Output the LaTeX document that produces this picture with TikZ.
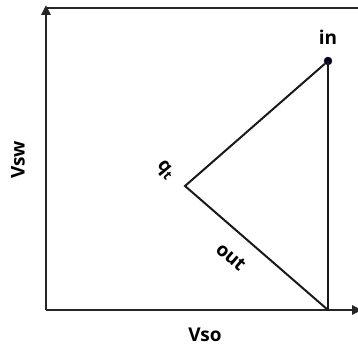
\documentclass[tikz,border=0pt]{standalone}
\usepackage{fontspec}
\setmainfont{Open Sans}
\usepackage{tikz}
\usetikzlibrary{arrows.meta, positioning}

\begin{document}
\begin{tikzpicture}[x=1pt, y=1pt,
    axis/.style={line width=2.6pt, draw=black!85, -{Triangle[length=10pt, width=9pt]}},
    edge/.style={line width=2pt, draw=black!90},
    lbl/.style={font=\fontsize{19}{21}\selectfont\bfseries, inner sep=0pt}]

    \useasboundingbox (0,0) rectangle (358,345);

    % ============================================================
    % AXES AND FRAME
    % ============================================================
    \coordinate (O) at (46,35);
    \coordinate (ytop) at (46,340);
    \coordinate (xend) at (362,35);
    \coordinate (tr) at (358,337);
    \draw[axis] (O) -- (ytop);
    \draw[axis] (O) -- (xend);
    \draw[line width=2.6pt, draw=black!85] (46,337) -- (tr);

    \node[lbl, rotate=90] (vsw) at (18,185) {Vsw};
    \node[lbl] (vso) at (205,10) {Vso};

    % ============================================================
    % TRIANGLE
    % ============================================================
    \coordinate (qt) at (185,159);
    \coordinate (bot) at (328,35);
    \node[circle, fill=black, draw=blue!60!black, inner sep=0pt,
        minimum size=8pt] (in) at (328,284) {};
    \draw[edge] (in) -- (qt) -- (bot);
    \draw[edge] (in.center) -- (bot);

    \node[lbl] at (328,308) {in};
    \node[lbl, rotate=-50] (qtlbl) at (165,174) {q\textsubscript{t}};
    \node[lbl, rotate=-41] (outlbl) at (231,88) {out};

\end{tikzpicture}
\end{document}
